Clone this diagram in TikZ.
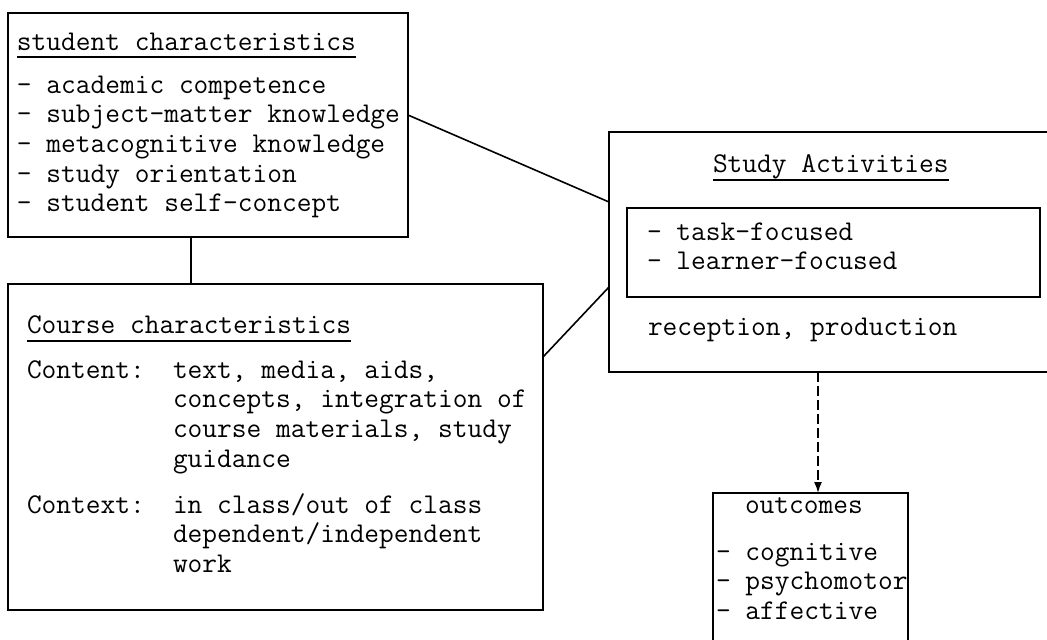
\documentclass[tikz,border=0pt]{standalone}
\usetikzlibrary{arrows.meta}
\newcommand\tfont{\fontsize{14.3}{14.8}\selectfont\ttfamily}
\begin{document}
\begin{tikzpicture}[x=0.5pt,y=-0.5pt,
  box/.style={draw,line width=1.1pt,inner sep=0pt,outer sep=0pt,anchor=north west},
  txt/.style={inner sep=0pt,outer sep=0pt,anchor=base west,font=\tfont},
  link/.style={line width=0.8pt},
  uline/.style={line width=0.7pt},
  flow/.style={line width=0.8pt,dash pattern=on 5pt off 2pt,-{Latex[length=5.5pt,width=4pt]}},
]
\useasboundingbox (0,0) rectangle (1047,639);
\fill[white] (0,0) rectangle (1047,639);

% boxes
\node[box,minimum width=200pt,minimum height=112pt] (stud) at (8,13) {};
\node[box,minimum width=267.5pt,minimum height=163pt] (course) at (8,284) {};
\node[box,minimum width=223pt,minimum height=120pt] (study) at (609,132) {};
\node[box,minimum width=206.5pt,minimum height=44.5pt] (inner) at (627,208) {};
\node[box,minimum width=97.5pt,minimum height=83.5pt] (out) at (713,493) {};

% student characteristics
\node[txt] (st) at (17,50) {student characteristics};
\draw[uline] ([yshift=-3.5pt]st.base west) -- ([yshift=-3.5pt]st.base east);
\foreach \t [count=\i from 0] in {academic competence, subject-matter knowledge, metacognitive knowledge, study orientation, student self-concept}
  \node[txt] (s\i) at (17,{93+29.7*\i}) {- \t};

% course characteristics
\node[txt] (ct) at (27,333) {Course characteristics};
\draw[uline] ([yshift=-4pt]ct.base west) -- ([yshift=-4pt]ct.base east);
\node[txt] (cl1) at (27,378) {Content:};
\foreach \t [count=\i from 0] in {{text, media, aids,},{concepts, integration of},{course materials, study},guidance}
  \node[txt] (cv\i) at (173,{378+29.7*\i}) {\t};
\node[txt] (cl2) at (27,513) {Context:};
\foreach \t [count=\i from 0] in {in class/out of class,dependent/independent,work}
  \node[txt] (cw\i) at (173,{513+29.7*\i}) {\t};

% study activities
\node[txt] (sa) at (713,172) {Study Activities};
\draw[uline] ([yshift=-4pt]sa.base west) -- ([yshift=-4pt]sa.base east);
\node[txt] (sa1) at (647,240) {- task-focused};
\node[txt] (sa2) at (647,269.7) {- learner-focused};
\node[txt] (sa3) at (648,335) {reception, production};

% outcomes
\node[txt] (ot) at (745,513) {outcomes};
\foreach \t [count=\i from 0] in {cognitive,psychomotor,affective}
  \node[txt] (o\i) at (716,{560+29.5*\i}) {- \t};

% connectors
\draw[link] ([yshift=5pt]stud.east) -- ([yshift=25pt]study.west);
\draw[link] ([yshift=45pt]course.east) -- ([yshift=-17.5pt]study.west);
\draw[link] ([xshift=-8.5pt]stud.south) coordinate (v) -- (v |- course.north);
\draw[flow] ([xshift=-7pt]study.south) coordinate (a) -- (a |- out.north);
\end{tikzpicture}
\end{document}
